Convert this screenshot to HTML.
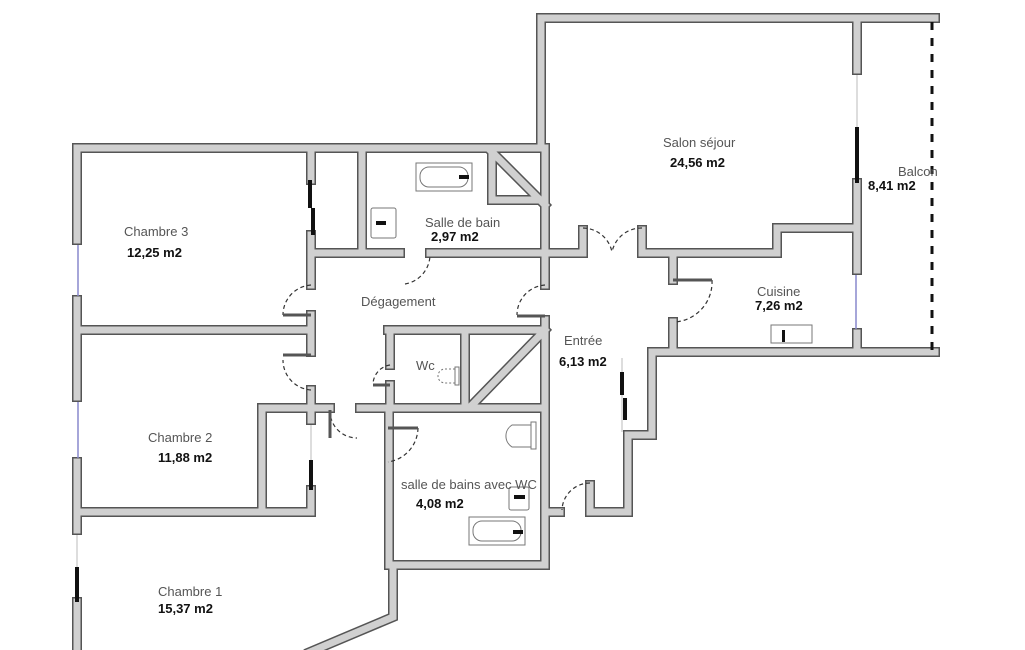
<!DOCTYPE html>
<html><head><meta charset="utf-8"><style>
html,body{margin:0;padding:0;background:#fff;width:1025px;height:650px;overflow:hidden}
svg{display:block}
.l{font-family:"Liberation Sans",sans-serif;font-size:13px;fill:#555}
.a{font-family:"Liberation Sans",sans-serif;font-size:13px;font-weight:bold;fill:#111}
</style></head><body>
<svg width="1025" height="650" viewBox="0 0 1025 650" xmlns="http://www.w3.org/2000/svg">
<defs>
<g id="w">
<polyline points="77,240 77,148 545,148"/>
<polyline points="77,300 77,397"/><polyline points="77,462 77,530"/><polyline points="77,602 77,660"/>
<polyline points="541,148 541,18 935,18"/>
<polyline points="857,18 857,70"/>
<polyline points="857,183 857,270"/><polyline points="857,333 857,350"/>
<polyline points="311,148 311,180"/><polyline points="311,235 311,285"/><polyline points="311,315 311,352"/><polyline points="311,390 311,410"/>
<polyline points="362,148 362,253"/>
<polyline points="311,253 400,253"/><polyline points="430,253 583,253"/>
<polyline points="583,253 583,230"/>
<polyline points="642,230 642,253 777,253 777,228 857,228"/>
<polyline points="545,148 545,285"/><polyline points="545,320 545,512 560,512"/>
<polyline points="77,330 311,330"/>
<polyline points="388,330 545,330"/>
<polyline points="390,330 390,365"/><polyline points="390,385 390,408"/>
<polyline points="465,330 465,408"/>
<polyline points="262,512 262,408 330,408"/><polyline points="360,408 545,408"/>
<polyline points="77,512 311,512 311,490"/><polyline points="311,408 311,420"/>
<polyline points="389,408 389,565 545,565 545,512"/>
<polyline points="393,565 393,617 310,652"/>
<polyline points="673,253 673,280"/><polyline points="673,322 673,352"/>
<polyline points="590,485 590,512 628,512 628,435 652,435 652,352 935,352"/>
<polyline points="545,330 472,405"/>
<polyline points="490,150 545,205"/>
<polyline points="492,150 492,200 545,200"/>
</g>
</defs>
<g fill="none" stroke="#555" stroke-width="10" stroke-linecap="square"><use href="#w"/></g>
<g fill="none" stroke="#d0d0d0" stroke-width="7" stroke-linecap="square"><use href="#w"/></g>
<g stroke="#8888cc" stroke-width="1.5">
<line x1="78" y1="245" x2="78" y2="296"/><line x1="78" y1="402" x2="78" y2="458"/>
<line x1="856" y1="275" x2="856" y2="329"/>
</g>
<g stroke="#bbb" stroke-width="1">
<line x1="857" y1="75" x2="857" y2="127"/><line x1="77" y1="535" x2="77" y2="567"/>
<line x1="311" y1="425" x2="311" y2="460"/>
<line x1="622" y1="358" x2="622" y2="432"/>
</g>
<g stroke="#111" stroke-width="4">
<line x1="857" y1="127" x2="857" y2="183"/><line x1="77" y1="567" x2="77" y2="602"/>
<line x1="311" y1="460" x2="311" y2="490"/>
<line x1="310" y1="180" x2="310" y2="208"/><line x1="313" y1="208" x2="313" y2="235"/>
<line x1="622" y1="372" x2="622" y2="395"/><line x1="625" y1="398" x2="625" y2="420"/>
</g>
<line x1="932" y1="22" x2="932" y2="350" stroke="#111" stroke-width="3" stroke-dasharray="8,8"/>
<g fill="none" stroke="#333" stroke-width="1.2" stroke-dasharray="4,3">
<path d="M311,285 A30,30 0 0 0 283,315"/><line x1="283" y1="315" x2="311" y2="315" stroke-dasharray="none" stroke="#555" stroke-width="3"/>
<path d="M311,390 A30,30 0 0 1 283,360"/><line x1="283" y1="355" x2="311" y2="355" stroke-dasharray="none" stroke="#555" stroke-width="3"/>
<path d="M405,284 A30,30 0 0 0 430,255"/>
<path d="M545,285 A30,30 0 0 0 517,315"/><line x1="517" y1="316" x2="545" y2="316" stroke-dasharray="none" stroke="#555" stroke-width="3"/>
<path d="M583,228 A30,30 0 0 1 612,252"/><path d="M642,228 A30,30 0 0 0 612,252"/>
<path d="M712,280 A40,40 0 0 1 675,322"/><line x1="673" y1="280" x2="712" y2="280" stroke-dasharray="none" stroke="#555" stroke-width="3"/>
<path d="M390,365 A20,20 0 0 0 373,384"/><line x1="373" y1="385" x2="390" y2="385" stroke-dasharray="none" stroke="#555" stroke-width="3"/>
<path d="M330,410 A27,27 0 0 0 357,438"/><line x1="330" y1="410" x2="330" y2="438" stroke-dasharray="none" stroke="#555" stroke-width="3"/>
<path d="M418,428 A35,35 0 0 1 388,462"/><line x1="388" y1="428" x2="418" y2="428" stroke-dasharray="none" stroke="#555" stroke-width="3"/>
<path d="M590,483 A28,28 0 0 0 562,510"/>
</g>
<g fill="none" stroke="#777" stroke-width="1">
<rect x="416" y="163" width="56" height="28"/><rect x="420" y="167" width="48" height="20" rx="9"/>
<rect x="371" y="208" width="25" height="30" rx="2"/>
<rect x="469" y="517" width="56" height="28"/><rect x="473" y="521" width="48" height="20" rx="9"/>
<rect x="509" y="487" width="20" height="23" rx="2"/>
<rect x="531" y="422" width="5" height="27"/><path d="M531,425 L512,425 A13,13 0 0 0 512,447 L531,447"/>
<rect x="455" y="367" width="4" height="18"/><path d="M455,369 L445,369 A7,7 0 0 0 445,383 L455,383" stroke-dasharray="2,2"/>
<rect x="771" y="325" width="41" height="18"/>
</g>
<g fill="#111"><rect x="459" y="175" width="10" height="4"/><rect x="376" y="221" width="10" height="4"/><rect x="513" y="530" width="10" height="4"/><rect x="514" y="495" width="11" height="4"/><rect x="782" y="330" width="3" height="12"/></g>
<text class="l" x="124" y="236">Chambre 3</text><text class="a" x="127" y="257">12,25 m2</text>
<text class="l" x="425" y="227">Salle de bain</text><text class="a" x="431" y="241">2,97 m2</text>
<text class="l" x="361" y="306">Dégagement</text>
<text class="l" x="663" y="147">Salon séjour</text><text class="a" x="670" y="167">24,56 m2</text>
<text class="l" x="898" y="176">Balcon</text><text class="a" x="868" y="190">8,41 m2</text>
<text class="l" x="757" y="296">Cuisine</text><text class="a" x="755" y="310">7,26 m2</text>
<text class="l" x="564" y="345">Entrée</text><text class="a" x="559" y="366">6,13 m2</text>
<text class="l" x="416" y="370">Wc</text>
<text class="l" x="148" y="442">Chambre 2</text><text class="a" x="158" y="462">11,88 m2</text>
<text class="l" x="401" y="489">salle de bains avec WC</text><text class="a" x="416" y="508">4,08 m2</text>
<text class="l" x="158" y="596">Chambre 1</text><text class="a" x="158" y="613">15,37 m2</text>
</svg>
</body></html>
